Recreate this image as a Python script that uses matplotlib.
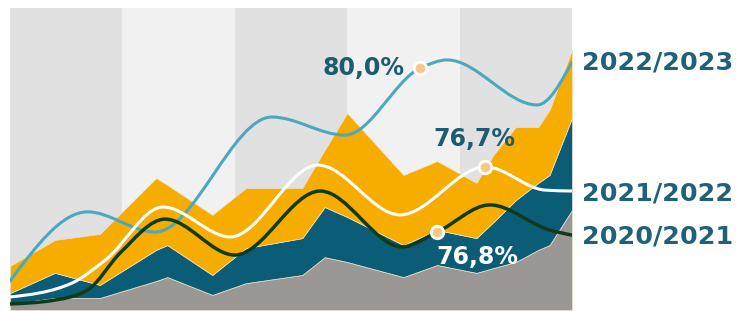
import numpy as np
import matplotlib
matplotlib.use('Agg')
import matplotlib.pyplot as plt
from matplotlib.path import Path
from matplotlib.patches import PathPatch

# stacked areas (weeks 0..50)
weeks = [0, 4, 8, 13, 14, 18, 21, 26, 28, 30, 35, 38, 41.5, 43, 45, 47, 48, 50]
grey_vals = [2.0, 4.0, 4.0, 9.6, 10.9, 5.0, 8.9, 11.6, 17.5, 15.9, 10.9, 14.9, 12.3, 13.9, 15.9, 19.9, 21.5, 33.1]
teal_vals = [3.6, 8.3, 4.3, 10.3, 10.6, 6.6, 11.6, 12.2, 16.6, 14.9, 10.6, 11.6, 11.5, 15.2, 20.5, 22.2, 23.2, 30.5]
orange_vals = [9.0, 10.9, 16.9, 23.8, 19.9, 19.9, 19.9, 16.6, 18.9, 34.4, 23.2, 22.8, 18.3, 22.2, 24.2, 18.5, 21.5, 22.5]

# smooth lines
x_2223 = [0, 6.9, 12.9, 23.3, 29.8, 36.5, 38.9, 46.9, 50]
y_2223 = [9.6, 32.5, 25.8, 63.9, 57.9, 80.1, 82.8, 67.9, 82.1]
x_2122 = [0, 5.5, 8.5, 13.6, 19.6, 27.4, 34.7, 42.3, 47.6, 50]
y_2122 = [4.3, 8.9, 16.6, 34.1, 24.2, 48.0, 31.5, 47.4, 39.7, 39.4]
x_2021 = [0, 4.0, 6.9, 9.8, 13.8, 20.0, 27.6, 34.9, 38.0, 42.7, 48.0, 50]
y_2021 = [2.0, 3.3, 6.6, 18.9, 30.1, 18.2, 39.4, 20.9, 25.8, 34.8, 26.5, 24.8]

series = ['2022/2023', '2021/2022', '2020/2021']
highlight_idx = [5, 7, 8]
highlight_txt = ['80,0%', '76,7%', '76,8%']

bands = [0, 10, 20, 30, 40, 50]


def monotone_path(xs, ys):
    # same idea as d3 curveMonotoneX, turned into bezier segments
    xs = np.asarray(xs, float)
    ys = np.asarray(ys, float)
    h = np.diff(xs)
    s = np.diff(ys) / h
    n = len(xs)
    m = np.zeros(n)
    for i in range(1, n - 1):
        p = (s[i-1]*h[i] + s[i]*h[i-1]) / (h[i-1] + h[i])
        m[i] = (np.sign(s[i-1]) + np.sign(s[i])) * min(abs(s[i-1]), abs(s[i]), 0.5*abs(p))
    m[0] = (3*s[0] - m[1]) / 2
    m[-1] = (3*s[-1] - m[-2]) / 2
    verts = [(xs[0], ys[0])]
    codes = [Path.MOVETO]
    for i in range(n - 1):
        d = h[i] / 3
        verts += [(xs[i] + d, ys[i] + m[i]*d), (xs[i+1] - d, ys[i+1] - m[i+1]*d), (xs[i+1], ys[i+1])]
        codes += [Path.CURVE4] * 3
    return Path(verts, codes)


fig = plt.figure(figsize=(7.37, 3.11), dpi=100)
ax = fig.add_axes([10/737, 1/311, 562/737, 302/311])
ax.set_xlim(0, 50)
ax.set_ylim(0, 100)
ax.axis('off')

# background bands
for i in range(len(bands) - 1):
    ax.axvspan(bands[i], bands[i+1], color=['#e1e1e1', '#f1f1f1'][i % 2], lw=0, zorder=0)

ax.stackplot(weeks, grey_vals, teal_vals, orange_vals,
             colors=['#9a9794', '#0b5c77', '#f6ad00'],
             edgecolor='#efe4cc', linewidth=0.5, zorder=1)

line_cols = ['#4aa8c1', '#ffffff', '#0f3b18']
line_w = [2.2, 2.2, 2.5]
lines = [(x_2223, y_2223), (x_2122, y_2122), (x_2021, y_2021)]
for (xs, ys), c, w in zip(lines, line_cols, line_w):
    ax.add_patch(PathPatch(monotone_path(xs, ys), fill=False, edgecolor=c, lw=w,
                           capstyle='round', zorder=3))

# highlighted points
for (xs, ys), k in zip(lines, highlight_idx):
    ax.plot(xs[k], ys[k], 'o', ms=9, mfc='#f6c887', mec='white', mew=2, zorder=4)

txt_col = '#1c5b70'
fnt = dict(family='DejaVu Sans', fontweight='bold')
ax.text(x_2223[5] - 1.4, y_2223[5], highlight_txt[0], ha='right', va='center',
        fontsize=17, color=txt_col, **fnt)
ax.text(x_2122[7] - 1.0, y_2122[7] + 9.2, highlight_txt[1], ha='center', va='center',
        fontsize=17, color=txt_col, **fnt)
ax.text(x_2021[8] - 0.1, y_2021[8] - 8.3, highlight_txt[2], ha='left', va='center',
        fontsize=17, color='white', **fnt)

# series names at line ends
label_y = [y_2223[-1], y_2122[-1] - 0.7, y_2021[-1] - 0.6]
for name, ly in zip(series, label_y):
    ax.text(50.85, ly, name, ha='left', va='center', fontsize=18.3,
            color='#1f6178', clip_on=False, **fnt)

fig.savefig('out.png', dpi=100)
